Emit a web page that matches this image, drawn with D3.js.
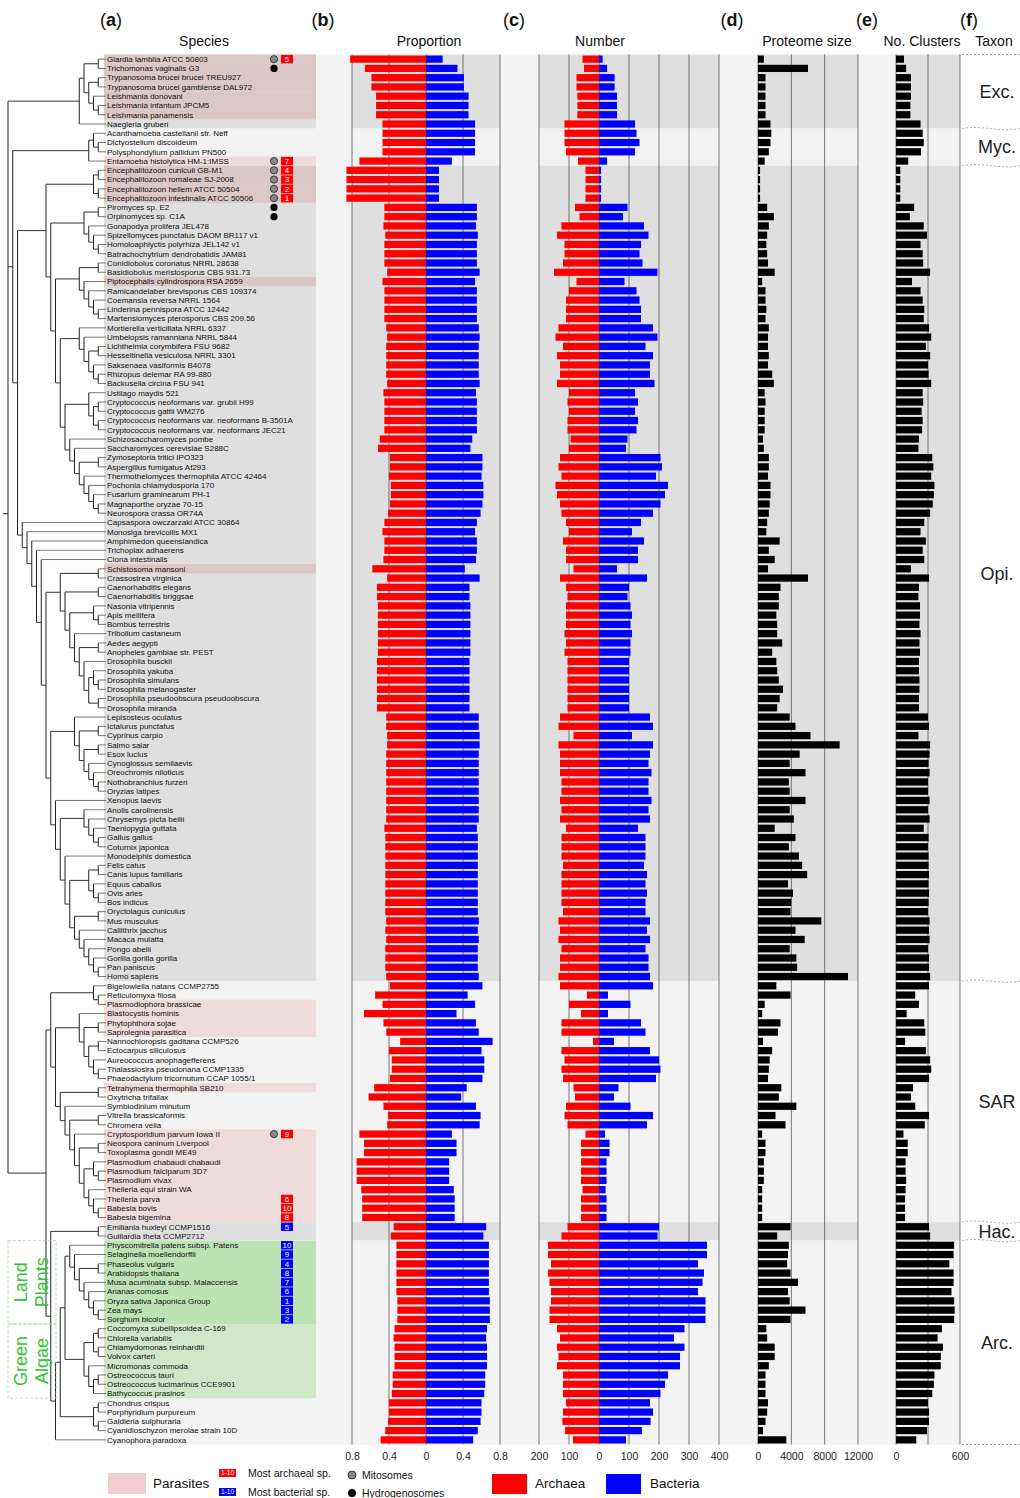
<!DOCTYPE html>
<html>
<head>
<meta charset="utf-8">
<script src="https://cdn.jsdelivr.net/npm/d3@7"></script>
<style>
  body { margin: 0; background: #fff; }
  svg text { font-family: "Liberation Sans", Arial, sans-serif; }
</style>
</head>
<body>
<div id="chart"></div>
<script>
// Dimensions
const width = 1020;
const height = 1498;

// Espèces (ordre des lignes)
const species = [
  "Giardia lamblia ATCC 50803", "Trichomonas vaginalis G3", "Trypanosoma brucei brucei TREU927", "Trypanosoma brucei gambiense DAL972", "Leishmania donovani", "Leishmania infantum JPCM5", "Leishmania panamensis", "Naegleria gruberi",
  "Acanthamoeba castellanii str. Neff", "Dictyostelium discoideum", "Polysphondylium pallidum PN500", "Entamoeba histolytica HM-1:IMSS",
  "Encephalitozoon cuniculi GB-M1", "Encephalitozoon romaleae SJ-2008", "Encephalitozoon hellem ATCC 50504", "Encephalitozoon intestinalis ATCC 50506",
  "Piromyces sp. E2", "Orpinomyces sp. C1A", "Gonapodya prolifera JEL478", "Spizellomyces punctatus DAOM BR117 v1", "Homoloaphlyctis polyrhiza JEL142 v1", "Batrachochytrium dendrobatidis JAM81", "Conidiobolus coronatus NRRL 28638", "Basidiobolus meristosporus CBS 931.73", "Piptocephalis cylindrospora RSA 2659",
  "Ramicandelaber brevisporus CBS 109374", "Coemansia reversa NRRL 1564", "Linderina pennispora ATCC 12442", "Martensiomyces pterosporus CBS 209.56", "Mortierella verticillata NRRL 6337", "Umbelopsis ramanniana NRRL 5844", "Lichtheimia corymbifera FSU 9682", "Hesseltinella vesiculosa NRRL 3301", "Saksenaea vasiformis B4078", "Rhizopus delemar RA 99-880", "Backusella circina FSU 941",
  "Ustilago maydis 521", "Cryptococcus neoformans var. grubii H99", "Cryptococcus gattii WM276", "Cryptococcus neoformans var. neoformans B-3501A", "Cryptococcus neoformans var. neoformans JEC21", "Schizosaccharomyces pombe", "Saccharomyces cerevisiae S288C",
  "Zymoseptoria tritici IPO323", "Aspergillus fumigatus Af293", "Thermothelomyces thermophila ATCC 42464", "Pochonia chlamydosporia 170", "Fusarium graminearum PH-1", "Magnaporthe oryzae 70-15", "Neurospora crassa OR74A",
  "Capsaspora owczarzaki ATCC 30864", "Monosiga brevicollis MX1", "Amphimedon queenslandica", "Trichoplax adhaerens", "Ciona intestinalis", "Schistosoma mansoni", "Crassostrea virginica",
  "Caenorhabditis elegans", "Caenorhabditis briggsae", "Nasonia vitripennis", "Apis mellifera", "Bombus terrestris", "Tribolium castaneum", "Aedes aegypti", "Anopheles gambiae str. PEST", "Drosophila busckii", "Drosophila yakuba", "Drosophila simulans", "Drosophila melanogaster", "Drosophila pseudoobscura pseudoobscura", "Drosophila miranda",
  "Lepisosteus oculatus", "Ictalurus punctatus", "Cyprinus carpio", "Salmo salar", "Esox lucius", "Cynoglossus semilaevis", "Oreochromis niloticus", "Nothobranchius furzeri", "Oryzias latipes", "Xenopus laevis",
  "Anolis carolinensis", "Chrysemys picta bellii", "Taeniopygia guttata", "Gallus gallus", "Coturnix japonica", "Monodelphis domestica", "Felis catus", "Canis lupus familiaris", "Equus caballus", "Ovis aries",
  "Bos indicus", "Oryctolagus cuniculus", "Mus musculus", "Callithrix jacchus", "Macaca mulatta", "Pongo abelii", "Gorilla gorilla gorilla", "Pan paniscus", "Homo sapiens",
  "Bigelowiella natans CCMP2755", "Reticulomyxa filosa", "Plasmodiophora brassicae", "Blastocystis hominis", "Phytophthora sojae", "Saprolegnia parasitica", "Nannochloropsis gaditana CCMP526", "Ectocarpus siliculosus", "Aureococcus anophagefferens", "Thalassiosira pseudonana CCMP1335",
  "Phaeodactylum tricornutum CCAP 1055/1", "Tetrahymena thermophila SB210", "Oxytricha trifallax", "Symbiodinium minutum", "Vitrella brassicaformis", "Chromera velia", "Cryptosporidium parvum Iowa II", "Neospora caninum Liverpool", "Toxoplasma gondii ME49", "Plasmodium chabaudi chabaudi",
  "Plasmodium falciparum 3D7", "Plasmodium vivax", "Theileria equi strain WA", "Theileria parva", "Babesia bovis", "Babesia bigemina",
  "Emiliania huxleyi CCMP1516", "Guillardia theta CCMP2712",
  "Physcomitrella patens subsp. Patens", "Selaginella moellendorffii", "Phaseolus vulgaris", "Arabidopsis thaliana", "Musa acuminata subsp. Malaccensis", "Ananas comosus", "Oryza sativa Japonica Group", "Zea mays", "Sorghum bicolor",
  "Coccomyxa subellipsoidea C-169", "Chlorella variabilis", "Chlamydomonas reinhardtii", "Volvox carteri", "Micromonas commoda", "Ostreococcus tauri", "Ostreococcus lucimarinus CCE9901", "Bathycoccus prasinos",
  "Chondrus crispus", "Porphyridium purpureum", "Galdieria sulphuraria", "Cyanidioschyzon merolae strain 10D", "Cyanophora paradoxa"
];

// Proportion archéenne / bactérienne
const propArchaea = [
  .82, .66, .59, .59, .54, .54, .54, .47,
  .47, .47, .47, .72,
  .86, .86, .86, .86,
  .45, .45, .46, .44, .45, .45, .45, .42, .47,
  .45, .45, .45, .45, .43, .42, .43, .43, .43, .43, .42,
  .46, .45, .45, .45, .45, .50, .52,
  .39, .39, .40, .38, .38, .39, .41,
  .45, .47, .45, .45, .46, .58, .42,
  .53, .53, .52, .52, .52, .52, .52, .52, .53, .53, .53, .53, .53, .53,
  .43, .43, .42, .42, .43, .43, .43, .43, .43, .43,
  .43, .43, .45, .44, .44, .44, .44, .44, .44, .44,
  .44, .44, .43, .44, .43, .44, .44, .44, .43,
  .39, .55, .47, .67, .46, .43, .28, .40, .37, .37,
  .39, .56, .62, .46, .41, .42, .72, .67, .67, .75,
  .75, .75, .70, .69, .69, .69,
  .35, .38,
  .32, .32, .32, .32, .32, .32, .31, .31, .31,
  .34, .35, .34, .34, .34, .36, .36, .37,
  .40, .40, .41, .44, .49
];
const propBacteria = [
  .18, .34, .41, .41, .46, .46, .46, .53,
  .53, .53, .53, .28,
  .14, .14, .14, .14,
  .55, .55, .54, .56, .55, .55, .55, .58, .53,
  .55, .55, .55, .55, .57, .58, .57, .57, .57, .57, .58,
  .54, .55, .55, .55, .55, .50, .48,
  .61, .61, .60, .62, .62, .61, .59,
  .55, .53, .55, .55, .54, .42, .58,
  .47, .47, .48, .48, .48, .48, .48, .48, .47, .47, .47, .47, .47, .47,
  .57, .57, .58, .58, .57, .57, .57, .57, .57, .57,
  .57, .57, .55, .56, .56, .56, .56, .56, .56, .56,
  .56, .56, .57, .56, .57, .56, .56, .56, .57,
  .61, .45, .53, .33, .54, .57, .72, .60, .63, .63,
  .61, .44, .38, .54, .59, .58, .28, .33, .33, .25,
  .25, .25, .30, .31, .31, .31,
  .65, .62,
  .68, .68, .68, .68, .68, .68, .69, .69, .69,
  .66, .65, .66, .66, .66, .64, .64, .63,
  .60, .60, .59, .56, .51
];

// Nombre de protéines d'origine archéenne / bactérienne
const numArchaea = [
  55, 50, 75, 75, 72, 72, 72, 115,
  115, 115, 110, 70,
  45, 45, 45, 45,
  80, 65, 125, 140, 115, 115, 120, 150, 75,
  100, 110, 110, 110, 135, 145, 120, 140, 130, 130, 140,
  100, 105, 100, 105, 105, 95, 100,
  130, 135, 125, 145, 140, 130, 125,
  110, 100, 120, 110, 110, 85, 130,
  110, 105, 110, 110, 110, 115, 110, 115, 105, 105, 105, 105, 105, 105,
  130, 135, 85, 135, 130, 130, 130, 125, 125, 130,
  125, 130, 110, 125, 125, 125, 120, 125, 125, 125,
  125, 120, 135, 130, 135, 125, 130, 130, 135,
  130, 40, 100, 60, 125, 125, 20, 125, 115, 125,
  120, 85, 80, 110, 115, 105, 45, 60, 60, 60,
  60, 60, 55, 60, 60, 60,
  105, 125,
  170, 170, 160, 170, 165, 160, 160, 165, 165,
  140, 130, 140, 135, 140, 120, 120, 120,
  110, 120, 122, 113, 87
];
const numBacteria = [
  12, 27, 52, 52, 60, 60, 60, 120,
  125, 135, 120, 27,
  7, 7, 7, 7,
  95, 80, 150, 165, 140, 135, 145, 195, 85,
  125, 135, 140, 140, 180, 195, 155, 180, 170, 170, 185,
  120, 130, 120, 130, 125, 95, 90,
  205, 210, 190, 230, 220, 205, 180,
  140, 110, 150, 130, 130, 60, 160,
  100, 95, 105, 110, 105, 110, 105, 105, 100, 100, 100, 100, 100, 100,
  170, 180, 110, 180, 170, 165, 175, 165, 165, 175,
  165, 170, 130, 155, 155, 155, 150, 160, 155, 160,
  155, 155, 170, 160, 170, 155, 165, 165, 170,
  180, 30, 105, 30, 140, 155, 50, 170, 200, 205,
  190, 65, 50, 105, 180, 160, 20, 35, 35, 25,
  25, 25, 22, 25, 25, 25,
  200, 195,
  360, 360, 330, 350, 345, 330, 355, 355, 355,
  285, 250, 285, 270, 270, 230, 220, 205,
  170, 180, 172, 143, 90
];

// Taille du protéome
const proteomeSize = [
  700, 6000, 900, 900, 900, 900, 900, 1500,
  1600, 1500, 1300, 800,
  250, 250, 250, 250,
  1100, 1900, 1300, 1100, 1000, 1100, 1200, 2000, 500,
  900, 900, 1000, 900, 1300, 1200, 1200, 1300, 1200, 1700, 1900,
  800, 900, 800, 800, 800, 600, 700,
  1300, 1300, 1200, 1500, 1500, 1400, 1300,
  1100, 1000, 2600, 1300, 2000, 1200, 6000,
  2700, 2500, 2500, 2200, 2300, 2300, 2900, 1700, 2200, 2300, 2500, 3000, 2600, 2300,
  3800, 4500, 6300, 9800, 5000, 3800, 5700, 3700, 3800, 5700,
  3800, 4300, 2000, 4500, 3700, 4900, 5300, 5900, 3600, 4200,
  4000, 3900, 7600, 4500, 5600, 3800, 4600, 4700, 10800,
  2200, 3900, 800, 500, 2700, 2400, 600, 1700, 1400, 1300,
  1200, 2800, 2500, 4600, 2100, 3300, 500, 900, 900, 700,
  700, 700, 500, 500, 500, 500,
  3900, 2300,
  3700, 3600, 3500, 3900, 4800, 3600, 3800, 5700, 3900,
  1000, 1100, 2000, 2000, 1300, 900, 900, 900,
  1200, 1100, 900, 600, 3400
];

// Nombre de clusters
const numClusters = [
  75, 95, 140, 140, 140, 135, 135, 230,
  250, 260, 235, 115,
  40, 40, 40, 40,
  170, 130, 260, 290, 230, 250, 255, 320, 150,
  230, 250, 265, 260, 310, 330, 280, 320, 300, 305, 330,
  250, 255, 240, 250, 245, 215, 210,
  340, 350, 330, 360, 355, 345, 320,
  265, 230, 280, 250, 265, 140, 310,
  215, 210, 225, 225, 220, 230, 220, 225, 215, 215, 220, 220, 215, 215,
  300, 310, 210, 320, 315, 305, 315, 300, 300, 315,
  300, 315, 260, 305, 300, 305, 305, 310, 305, 310,
  305, 300, 315, 310, 315, 300, 310, 310, 320,
  310, 180, 215, 100, 265, 275, 85, 280, 320, 330,
  310, 160, 140, 180, 310, 270, 70, 110, 110, 90,
  90, 95, 90, 85, 85, 85,
  310, 320,
  545, 540, 500, 540, 540, 520, 545, 550, 545,
  430, 390, 440, 420, 420, 360, 355, 340,
  300, 310, 310, 290, 190
];

// Annotations (numéros de ligne, base 1)
const parasites = [1, 2, 3, 4, 5, 6, 7, 12, 13, 14, 15, 16, 25, 56, 103, 104, 105, 106, 112, 117, 118, 119, 120, 121, 122, 123, 124, 125, 126];
const mitosomes = [1, 12, 13, 14, 15, 16, 117];
const hydrogenosomes = [2, 17, 18];
const archaealRankRows = [1, 12, 13, 14, 15, 16, 117, 124, 125, 126];
const archaealRanks = [5, 7, 4, 3, 2, 1, 9, 6, 10, 8];
const bacterialRankRows = [127, 129, 130, 131, 132, 133, 134, 135, 136, 137];
const bacterialRanks = [5, 10, 9, 4, 8, 7, 6, 1, 3, 2];
const landPlantRows = [129, 137];
const greenAlgaeRows = [138, 145];

// Groupes taxonomiques
const taxa = ["Exc.", "Myc.", "Opi.", "SAR", "Hac.", "Arc."];
const taxonFirst = [1, 9, 13, 101, 127, 129];
const taxonLast = [8, 12, 100, 126, 128, 150];
const taxonDark = [true, false, true, false, true, false];

// Ticks des axes
const propTicks = [-0.8, -0.4, 0, 0.4, 0.8];
const numTicks = [-200, -100, 0, 100, 200, 300, 400];
const protTicks = [0, 4000, 8000, 12000];
const clusterGrid = [0, 300, 600];
const clusterTicks = [0, 600];

// Arbre (feuilles = numéros de ligne)
const excavata = [[[1, 2], [[3, 4], [5, [6, 7]]]], 8];
const amoebozoa = [[9, [10, 11]], 12];
const microsporidia = [[13, 14], [15, 16]];
const chytrids = [[17, 18], [19, [20, [21, 22]]]];
const zoopagos = [[23, 24], [25, [26, [27, [28, 29]]]]];
const mucoros = [30, [31, [[32, 33], [34, [35, 36]]]]];
const basidios = [37, [[38, 39], [40, 41]]];
const ascos = [42, [43, [[44, 45], [46, [47, [48, [49, 50]]]]]]];
const fungi = [microsporidia, [chytrids, [zoopagos, [mucoros, [basidios, ascos]]]]];
const insects = [[60, [61, 62]], [63, [[64, 65], [66, [[67, [68, 69]], [70, 71]]]]]];
const protostomes = [[56, 57], [[58, 59], insects]];
const fish = [72, [[73, 74], [[75, 76], [77, [78, [79, 80]]]]]];
const primates = [95, [96, [97, [98, [99, 100]]]]];
const mammals = [87, [[[88, 89], [90, [91, 92]]], [[93, 94], primates]]];
const tetrapods = [81, [[82, [83, [84, [85, 86]]]], mammals]];
const holozoa = [51, [52, [53, [54, [55, [protostomes, [fish, tetrapods]]]]]]];
const amorphea = [amoebozoa, [fungi, holozoa]];
const rhizaria = [101, [102, 103]];
const stramenopiles = [104, [[105, 106], [[107, 108], [109, [110, 111]]]]];
const apicomplexa = [117, [[118, 119], [[120, [121, 122]], [123, [124, [125, 126]]]]]];
const alveolates = [[112, 113], [114, [[115, 116], apicomplexa]]];
const landPlants = [129, [130, [[131, 132], [133, [134, [135, [136, 137]]]]]]];
const greenAlgae = [[[138, 139], [140, 141]], [142, [[143, 144], 145]]];
const redAlgae = [[146, 147], [148, 149]];
const archaeplastida = [[[landPlants, greenAlgae], redAlgae], 150];
const diaphoretickes = [[rhizaria, [stramenopiles, alveolates]], [[127, 128], archaeplastida]];
const treeData = [excavata, amorphea, diaphoretickes];

// Création du SVG
const svg = d3.select("#chart").append("svg")
  .attr("width", width)
  .attr("height", height);

// Échelles
const y = d3.scaleBand().domain(d3.range(species.length)).range([54.5, 1444.5]);
const bw = y.bandwidth();
const cy = (i) => y(i) + bw / 2;
const barH = bw * 0.78;

const xProp = d3.scaleLinear().domain([-0.8, 0.8]).range([352, 500]);
const xNum = d3.scaleLinear().domain([-200, 400]).range([539, 719]);
const xProt = d3.scaleLinear().domain([0, 12000]).range([758, 858]);
const xClu = d3.scaleLinear().domain([0, 600]).range([896, 960]);

const DARK = "#dfdfdf";
const LIGHT = "#f3f3f3";
const panels = [xProp.range(), xNum.range(), xProt.range(), xClu.range()];

// Fonds par groupe
const bg = svg.append("g");
taxa.forEach((t, k) => {
  const y0 = y(taxonFirst[k] - 1);
  const y1 = y(taxonLast[k] - 1) + bw;
  const shade = taxonDark[k] ? DARK : LIGHT;
  bg.append("rect").attr("x", 104).attr("y", y0).attr("width", 212).attr("height", y1 - y0).attr("fill", shade);
  bg.append("rect").attr("x", 316).attr("y", y0).attr("width", 644).attr("height", y1 - y0).attr("fill", LIGHT);
  panels.forEach(([a, b]) => {
    bg.append("rect").attr("x", a).attr("y", y0).attr("width", b - a).attr("height", y1 - y0).attr("fill", shade);
  });
});

// Parasites et plantes (colonne espèces)
const isDarkRow = (r) => taxa.some((t, k) => taxonDark[k] && r >= taxonFirst[k] && r <= taxonLast[k]);
bg.selectAll("rect.para").data(parasites).join("rect")
  .attr("class", "para")
  .attr("x", 104).attr("y", (r) => y(r - 1)).attr("width", 212).attr("height", bw)
  .attr("fill", (r) => isDarkRow(r) ? "#dcc7c7" : "#eedbdb");
bg.append("rect").attr("x", 104).attr("y", y(landPlantRows[0] - 1))
  .attr("width", 212).attr("height", y(landPlantRows[1] - 1) + bw - y(landPlantRows[0] - 1))
  .attr("fill", "#bce3b3");
bg.append("rect").attr("x", 104).attr("y", y(greenAlgaeRows[0] - 1))
  .attr("width", 212).attr("height", y(greenAlgaeRows[1] - 1) + bw - y(greenAlgaeRows[0] - 1))
  .attr("fill", "#cfe9c8");

// Lignes de grille
const grid = svg.append("g").attr("stroke", "#555").attr("stroke-width", 0.8);
const gridX = [].concat(propTicks.map(xProp), numTicks.map(xNum), protTicks.map(xProt), clusterGrid.map(xClu));
grid.selectAll("line").data(gridX).join("line")
  .attr("x1", (d) => d).attr("x2", (d) => d)
  .attr("y1", 54.5).attr("y2", 1444.5);

// Barres
const rows = d3.range(species.length);
const bars = svg.append("g");
function hbars(cls, x0, x1, fill) {
  bars.selectAll("rect." + cls).data(rows).join("rect")
    .attr("class", cls)
    .attr("x", (i) => Math.min(x0(i), x1(i)))
    .attr("y", (i) => cy(i) - barH / 2)
    .attr("width", (i) => Math.abs(x1(i) - x0(i)))
    .attr("height", barH)
    .attr("fill", fill);
}
hbars("pa", (i) => xProp(-propArchaea[i]), () => xProp(0), "#ff0000");
hbars("pb", () => xProp(0), (i) => xProp(propBacteria[i]), "#0000ff");
hbars("na", (i) => xNum(-numArchaea[i]), () => xNum(0), "#ff0000");
hbars("nb", () => xNum(0), (i) => xNum(numBacteria[i]), "#0000ff");
hbars("ps", () => xProt(0), (i) => xProt(proteomeSize[i]), "#000");
hbars("cl", () => xClu(0), (i) => xClu(numClusters[i]), "#000");

// Arbre phylogénétique
const root = d3.hierarchy(treeData, (d) => (Array.isArray(d) ? d : null));
const xTree = d3.scaleLinear().domain([root.height, 0]).range([8, 103]);
root.eachAfter((n) => {
  n.py = n.children ? d3.mean(n.children, (c) => c.py) : cy(n.data - 1);
  n.px = xTree(n.height);
});
const tree = svg.append("g").attr("fill", "none").attr("stroke-width", 1);
tree.selectAll("path.v").data(root.descendants().filter((n) => n.children)).join("path")
  .attr("class", "v")
  .attr("stroke", "#222")
  .attr("d", (n) => `M${n.px},${n.children[0].py}V${n.children[n.children.length - 1].py}`);
tree.selectAll("path.h").data(root.descendants().filter((n) => n.parent)).join("path")
  .attr("class", "h")
  .attr("stroke", (n) => (n.children ? "#333" : "#777"))
  .attr("d", (n) => `M${n.parent.px},${n.py}H${n.children ? n.px : 106}`);
tree.append("path").attr("stroke", "#222").attr("d", `M3,${root.py}H${root.px}`);

// Noms d'espèces
svg.append("g").selectAll("text").data(species).join("text")
  .attr("x", 107).attr("y", (d, i) => cy(i)).attr("dy", "0.35em")
  .attr("font-size", 8).attr("fill", "#111")
  .text((d) => d);

// Mitosomes / hydrogénosomes
svg.append("g").selectAll("circle").data(mitosomes).join("circle")
  .attr("cx", 274).attr("cy", (r) => cy(r - 1)).attr("r", 3.6)
  .attr("fill", "#888").attr("stroke", "#222").attr("stroke-width", 0.8);
svg.append("g").selectAll("circle").data(hydrogenosomes).join("circle")
  .attr("cx", 274).attr("cy", (r) => cy(r - 1)).attr("r", 3.6)
  .attr("fill", "#000");

// Rangs (boîtes numérotées)
function rankBoxes(rowsList, ranks, fill) {
  const g = svg.append("g");
  rowsList.forEach((r, k) => {
    g.append("rect").attr("x", 281).attr("y", cy(r - 1) - bw / 2 + 0.4)
      .attr("width", 12).attr("height", bw - 0.8).attr("fill", fill);
    g.append("text").attr("x", 287).attr("y", cy(r - 1)).attr("dy", "0.35em")
      .attr("text-anchor", "middle").attr("font-size", 8).attr("fill", "#fff")
      .text(ranks[k]);
  });
}
rankBoxes(archaealRankRows, archaealRanks, "#ff0000");
rankBoxes(bacterialRankRows, bacterialRanks, "#0000ff");

// Plantes terrestres / algues vertes
const pb = svg.append("g");
const lp0 = y(landPlantRows[0] - 1), lp1 = y(landPlantRows[1] - 1) + bw;
const ga0 = y(greenAlgaeRows[0] - 1), ga1 = y(greenAlgaeRows[1] - 1) + bw;
[[lp0, lp1], [ga0, ga1]].forEach(([a, b]) => {
  pb.append("rect").attr("x", 8).attr("y", a).attr("width", 48).attr("height", b - a)
    .attr("fill", "none").attr("stroke", "#9fd69a").attr("stroke-dasharray", "3,2").attr("stroke-width", 0.8);
});
[[["Land", "Plants"], (lp0 + lp1) / 2], [["Green", "Algae"], (ga0 + ga1) / 2]].forEach(([words, mid]) => {
  words.forEach((w, k) => {
    pb.append("text")
      .attr("transform", `translate(${21 + k * 21},${mid}) rotate(-90)`)
      .attr("text-anchor", "middle").attr("dy", "0.35em")
      .attr("font-size", 18).attr("fill", "#33c433")
      .text(w);
  });
});

// Colonne des taxons
const tx = svg.append("g");
const bounds = [54.5].concat(taxonLast.map((r) => y(r - 1) + bw));
bounds.forEach((b, k) => {
  const flat = k === 0 || k === bounds.length - 1;
  tx.append("path")
    .attr("d", flat ? `M962,${b}H1020` : `M962,${b}C982,${b - 4} 1000,${b + 4} 1020,${b}`)
    .attr("fill", "none").attr("stroke", "#999").attr("stroke-width", 0.8).attr("stroke-dasharray", "2,2");
});
tx.selectAll("text").data(taxa).join("text")
  .attr("x", 997)
  .attr("y", (t, k) => (y(taxonFirst[k] - 1) + y(taxonLast[k] - 1) + bw) / 2)
  .attr("dy", "0.35em").attr("text-anchor", "middle")
  .attr("font-size", 18).attr("fill", "#222")
  .text((t) => t);

// Axes
function axis(scale, ticks, fmt) {
  svg.append("g").attr("transform", "translate(0,1446)")
    .call(d3.axisBottom(scale).tickValues(ticks).tickSize(0).tickPadding(7).tickFormat(fmt))
    .call((g) => g.select(".domain").remove())
    .call((g) => g.selectAll("text").attr("font-size", 10.5).attr("fill", "#222")
      .attr("font-family", "Liberation Sans, Arial, sans-serif"));
}
axis(xProp, propTicks, (d) => Math.abs(d));
axis(xNum, numTicks, (d) => Math.abs(d));
axis(xProt, protTicks, d3.format("d"));
axis(xClu, clusterTicks, d3.format("d"));

// En-têtes
const panelLetters = ["a", "b", "c", "d", "e", "f"];
const letterX = [111, 323, 514, 732, 867, 969];
const titles = ["Species", "Proportion", "Number", "Proteome size", "No. Clusters", "Taxon"];
const titleX = [204, 429, 600, 807, 922, 994];
panelLetters.forEach((l, k) => {
  const t = svg.append("text").attr("x", letterX[k]).attr("y", 26)
    .attr("text-anchor", "middle").attr("font-size", 18).attr("fill", "#111");
  t.append("tspan").text("(");
  t.append("tspan").attr("font-weight", "bold").text(l);
  t.append("tspan").text(")");
});
svg.selectAll("text.title").data(titles).join("text")
  .attr("class", "title")
  .attr("x", (d, k) => titleX[k]).attr("y", 46)
  .attr("text-anchor", "middle").attr("font-size", 14).attr("fill", "#111")
  .text((d) => d);

// Légende
const lg = svg.append("g");
lg.append("rect").attr("x", 108).attr("y", 1473).attr("width", 38).attr("height", 21).attr("fill", "#f0cfcf");
lg.append("text").attr("x", 153).attr("y", 1488).attr("font-size", 13.5).attr("fill", "#111").text("Parasites");
[["#ff0000", 1469, "Most archaeal sp.", 1477], ["#0000ff", 1488, "Most bacterial sp.", 1496]].forEach(([c, yy, lab, ty]) => {
  lg.append("rect").attr("x", 219).attr("y", yy).attr("width", 17).attr("height", 8).attr("fill", c);
  lg.append("text").attr("x", 227.5).attr("y", yy + 4).attr("dy", "0.35em").attr("text-anchor", "middle")
    .attr("font-size", 6.5).attr("fill", "#fff").text("1-10");
  lg.append("text").attr("x", 248).attr("y", ty).attr("font-size", 10.5).attr("fill", "#111").text(lab);
});
lg.append("circle").attr("cx", 352).attr("cy", 1475).attr("r", 4).attr("fill", "#888").attr("stroke", "#222").attr("stroke-width", 0.8);
lg.append("text").attr("x", 362).attr("y", 1478.5).attr("font-size", 10.5).attr("fill", "#111").text("Mitosomes");
lg.append("circle").attr("cx", 352).attr("cy", 1493).attr("r", 4).attr("fill", "#000");
lg.append("text").attr("x", 362).attr("y", 1497).attr("font-size", 10.5).attr("fill", "#111").text("Hydrogenosomes");
[["#ff0000", 492, "Archaea", 535], ["#0000ff", 606, "Bacteria", 650]].forEach(([c, x, lab, tx2]) => {
  lg.append("rect").attr("x", x).attr("y", 1474).attr("width", 35).attr("height", 20).attr("fill", c);
  lg.append("text").attr("x", tx2).attr("y", 1488).attr("font-size", 13.5).attr("fill", "#111").text(lab);
});
</script>
</body>
</html>
